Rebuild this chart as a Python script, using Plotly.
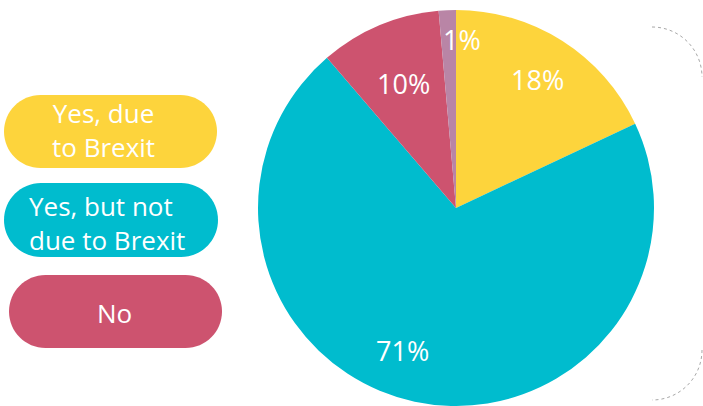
import math
import plotly.graph_objects as go

W, H = 703, 406

categories = ["Yes, due to Brexit", "Yes, but not due to Brexit", "No", "Other"]
values = [18.0, 70.7, 9.9, 1.4]
colors = ["#FDD43C", "#00BCCE", "#CD536F", "#B985A6"]
legend_labels = ["Yes, due<br>to Brexit", "Yes, but not<br>due to Brexit", "No"]

# label placement (fraction of radius, angular offset in degrees from slice middle)
label_r = [0.77, 0.77, 0.68, 0.85]
label_da = [0.0, 8.5, 0.0, 4.5]

FONT = "Open Sans"

# pie geometry in pixels
CX, CY, R = 456, 208, 198

fig = go.Figure(go.Pie(
    labels=categories,
    values=values,
    sort=False,
    direction="clockwise",
    rotation=0,
    marker=dict(colors=colors, line=dict(width=0)),
    textinfo="none",
    showlegend=False,
    hoverinfo="label+percent",
    domain=dict(x=[(CX - R) / W, (CX + R) / W], y=[1 - (CY + R) / H, 1 - (CY - R) / H]),
))


def px(x):
    return x / W


def py(y):
    return 1 - y / H


def rounded_rect(x0, y0, x1, y1, r):
    k = 0.5523 * r
    pts = [
        f"M{px(x0 + r)},{py(y0)}",
        f"L{px(x1 - r)},{py(y0)}",
        f"C{px(x1 - r + k)},{py(y0)} {px(x1)},{py(y0 + r - k)} {px(x1)},{py(y0 + r)}",
        f"L{px(x1)},{py(y1 - r)}",
        f"C{px(x1)},{py(y1 - r + k)} {px(x1 - r + k)},{py(y1)} {px(x1 - r)},{py(y1)}",
        f"L{px(x0 + r)},{py(y1)}",
        f"C{px(x0 + r - k)},{py(y1)} {px(x0)},{py(y1 - r + k)} {px(x0)},{py(y1 - r)}",
        f"L{px(x0)},{py(y0 + r)}",
        f"C{px(x0)},{py(y0 + r - k)} {px(x0 + r - k)},{py(y0)} {px(x0 + r)},{py(y0)}",
        "Z",
    ]
    return " ".join(pts)


shapes = []
annotations = []

# percentage labels derived from the values
total = sum(values)
cum = 0.0
for v, fr, da in zip(values, label_r, label_da):
    mid = (cum + v / 2) / total * 360 + da
    cum += v
    ang = math.radians(mid)
    x = CX + fr * R * math.sin(ang)
    y = CY - fr * R * math.cos(ang)
    annotations.append(dict(
        xref="paper", yref="paper", x=px(x), y=py(y),
        xanchor="center", yanchor="middle", showarrow=False,
        text=f"{round(v / total * 100):d}%",
        font=dict(family=FONT, size=27, color="white"),
    ))

boxes = [(4, 95, 217, 168), (4, 183, 218, 257), (9, 275, 222, 348)]
text_pos = [(103, 130, "center"), (27, 223, "left"), (115, 313, "center")]

for (x0, y0, x1, y1), col, lab, (tx, ty, al) in zip(boxes, colors, legend_labels, text_pos):
    r = (y1 - y0) / 2
    shapes.append(dict(type="path", xref="paper", yref="paper",
                       path=rounded_rect(x0, y0, x1, y1, r),
                       fillcolor=col, line=dict(width=0), layer="below"))
    annotations.append(dict(
        xref="paper", yref="paper", x=px(tx), y=py(ty),
        xanchor="center" if al == "center" else "left", yanchor="middle",
        align=al, text=lab, showarrow=False,
        font=dict(family=FONT, size=26, color="white"),
    ))

# dotted corner arcs on the right
k = 0.5523
RA = 50
arc_top = (f"M{px(652)},{py(27)} C{px(652 + RA * k)},{py(27)} {px(702)},{py(27 + RA - RA * k)} {px(702)},{py(27 + RA)}")
arc_bot = (f"M{px(702)},{py(400 - RA)} C{px(702)},{py(400 - RA + RA * k)} {px(652 + RA * k)},{py(400)} {px(652)},{py(400)}")
for p in (arc_top, arc_bot):
    shapes.append(dict(type="path", xref="paper", yref="paper", path=p,
                       line=dict(color="#A8A8A8", width=1, dash="dot")))

fig.update_layout(
    width=W, height=H,
    margin=dict(l=0, r=0, t=0, b=0),
    paper_bgcolor="white",
    plot_bgcolor="white",
    shapes=shapes,
    annotations=annotations,
    font=dict(family=FONT),
)

fig.write_html("out.html")
